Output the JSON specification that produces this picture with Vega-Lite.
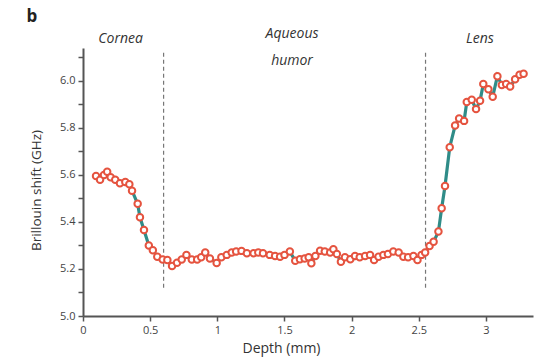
{
  "$schema": "https://vega.github.io/schema/vega-lite/v6.json",
  "width": 450,
  "height": 268,
  "autosize": {"type": "none"},
  "padding": {"left": 83, "top": 48, "right": 13, "bottom": 48},
  "background": "white",
  "config": {"view": {"stroke": null}, "font": "Open Sans"},
  "datasets": {
    "profile": [
      {"depth": 0.097, "shift": 5.596}, {"depth": 0.127, "shift": 5.58}, {"depth": 0.156, "shift": 5.6}, {"depth": 0.18, "shift": 5.614},
      {"depth": 0.206, "shift": 5.59}, {"depth": 0.24, "shift": 5.58}, {"depth": 0.275, "shift": 5.565}, {"depth": 0.315, "shift": 5.57},
      {"depth": 0.345, "shift": 5.56}, {"depth": 0.365, "shift": 5.533}, {"depth": 0.407, "shift": 5.477}, {"depth": 0.424, "shift": 5.42},
      {"depth": 0.454, "shift": 5.366}, {"depth": 0.49, "shift": 5.3}, {"depth": 0.52, "shift": 5.28}, {"depth": 0.553, "shift": 5.252},
      {"depth": 0.593, "shift": 5.24}, {"depth": 0.628, "shift": 5.238}, {"depth": 0.663, "shift": 5.213}, {"depth": 0.7, "shift": 5.227},
      {"depth": 0.735, "shift": 5.24}, {"depth": 0.77, "shift": 5.26}, {"depth": 0.81, "shift": 5.24}, {"depth": 0.85, "shift": 5.24},
      {"depth": 0.88, "shift": 5.25}, {"depth": 0.91, "shift": 5.27}, {"depth": 0.945, "shift": 5.245}, {"depth": 0.995, "shift": 5.225},
      {"depth": 1.03, "shift": 5.25}, {"depth": 1.07, "shift": 5.26}, {"depth": 1.107, "shift": 5.27}, {"depth": 1.14, "shift": 5.274},
      {"depth": 1.18, "shift": 5.277}, {"depth": 1.22, "shift": 5.267}, {"depth": 1.27, "shift": 5.267}, {"depth": 1.305, "shift": 5.27},
      {"depth": 1.34, "shift": 5.267}, {"depth": 1.39, "shift": 5.26}, {"depth": 1.43, "shift": 5.255}, {"depth": 1.467, "shift": 5.252},
      {"depth": 1.5, "shift": 5.26}, {"depth": 1.54, "shift": 5.274}, {"depth": 1.58, "shift": 5.235}, {"depth": 1.615, "shift": 5.241},
      {"depth": 1.65, "shift": 5.245}, {"depth": 1.68, "shift": 5.25}, {"depth": 1.7, "shift": 5.224}, {"depth": 1.73, "shift": 5.255},
      {"depth": 1.765, "shift": 5.278}, {"depth": 1.8, "shift": 5.274}, {"depth": 1.84, "shift": 5.27}, {"depth": 1.864, "shift": 5.284},
      {"depth": 1.89, "shift": 5.264}, {"depth": 1.92, "shift": 5.231}, {"depth": 1.95, "shift": 5.25}, {"depth": 1.99, "shift": 5.241},
      {"depth": 2.025, "shift": 5.255}, {"depth": 2.06, "shift": 5.25}, {"depth": 2.1, "shift": 5.255}, {"depth": 2.137, "shift": 5.26},
      {"depth": 2.167, "shift": 5.238}, {"depth": 2.2, "shift": 5.252}, {"depth": 2.236, "shift": 5.26}, {"depth": 2.27, "shift": 5.264},
      {"depth": 2.31, "shift": 5.274}, {"depth": 2.35, "shift": 5.27}, {"depth": 2.385, "shift": 5.252}, {"depth": 2.42, "shift": 5.25},
      {"depth": 2.46, "shift": 5.255}, {"depth": 2.49, "shift": 5.238}, {"depth": 2.52, "shift": 5.26}, {"depth": 2.547, "shift": 5.27},
      {"depth": 2.58, "shift": 5.298}, {"depth": 2.61, "shift": 5.316}, {"depth": 2.646, "shift": 5.359}, {"depth": 2.67, "shift": 5.458},
      {"depth": 2.695, "shift": 5.553}, {"depth": 2.73, "shift": 5.718}, {"depth": 2.77, "shift": 5.81}, {"depth": 2.8, "shift": 5.84},
      {"depth": 2.837, "shift": 5.83}, {"depth": 2.857, "shift": 5.91}, {"depth": 2.894, "shift": 5.92}, {"depth": 2.926, "shift": 5.88},
      {"depth": 2.956, "shift": 5.916}, {"depth": 2.98, "shift": 5.987}, {"depth": 3.018, "shift": 5.965}, {"depth": 3.05, "shift": 5.933},
      {"depth": 3.085, "shift": 6.02}, {"depth": 3.118, "shift": 5.983}, {"depth": 3.15, "shift": 5.987}, {"depth": 3.18, "shift": 5.976},
      {"depth": 3.217, "shift": 6.007}, {"depth": 3.25, "shift": 6.026}, {"depth": 3.28, "shift": 6.03}
    ],
    "dividers": [
      {"depth": 0.6, "shift": 5.12, "shift2": 6.12},
      {"depth": 2.55, "shift": 5.12, "shift2": 6.12}
    ],
    "labels": [
      {"depth": 0.28, "shift": 6.18, "text": "Cornea", "kind": "region"},
      {"depth": 1.556, "shift": 6.2, "text": "Aqueous", "kind": "region"},
      {"depth": 1.556, "shift": 6.083, "text": "humor", "kind": "region"},
      {"depth": 2.955, "shift": 6.18, "text": "Lens", "kind": "region"},
      {"depth": -0.38, "shift": 6.27, "text": "b", "kind": "panel"}
    ]
  },
  "encoding": {
    "x": {
      "field": "depth", "type": "quantitative",
      "scale": {"domain": [0, 3.35], "nice": false, "zero": false},
      "axis": {
        "title": "Depth (mm)", "values": [0, 0.5, 1, 1.5, 2, 2.5, 3], "format": ".2~f",
        "grid": false, "domainColor": "#555555", "domainWidth": 2, "tickColor": "#555555", "tickWidth": 1.5, "tickSize": 5,
        "labelFontSize": 11, "labelColor": "#444444", "labelPadding": 3, "labelFlush": false,
        "titleFontSize": 14, "titleFontWeight": "normal", "titleColor": "#333333", "titlePadding": 6, "titleX": 198
      }
    },
    "y": {
      "field": "shift", "type": "quantitative",
      "scale": {"domain": [5.0, 6.14], "nice": false, "zero": false},
      "axis": {
        "title": "Brillouin shift (GHz)",
        "values": [5.0, 5.1, 5.2, 5.3, 5.4, 5.5, 5.6, 5.7, 5.8, 5.9, 6.0, 6.1],
        "labelExpr": "round(datum.value * 10) % 2 == 0 ? format(datum.value, '.1f') : ''",
        "grid": false, "domainColor": "#555555", "domainWidth": 2, "tickColor": "#555555", "tickWidth": 1.5, "tickSize": 5,
        "labelFontSize": 11, "labelColor": "#444444", "labelPadding": 3, "labelFlush": false,
        "titleFontSize": 13.5, "titleFontWeight": "normal", "titleColor": "#333333", "titlePadding": 16, "titleY": 142
      }
    }
  },
  "layer": [
    {
      "data": {"name": "dividers"},
      "mark": {"type": "rule", "color": "#777777", "strokeWidth": 1.2, "strokeDash": [4, 3]},
      "encoding": {"y2": {"field": "shift2"}}
    },
    {
      "data": {"name": "profile"},
      "mark": {"type": "line", "color": "#2f8c88", "strokeWidth": 3.2},
      "encoding": {}
    },
    {
      "data": {"name": "profile"},
      "mark": {"type": "point", "shape": "circle", "filled": true, "fill": "white", "stroke": "#e5533f", "strokeWidth": 2, "size": 42, "opacity": 1}
    },
    {
      "data": {"name": "labels"},
      "transform": [{"filter": "datum.kind == 'region'"}],
      "mark": {"type": "text", "fontStyle": "italic", "fontSize": 14, "color": "#333333", "align": "center", "baseline": "middle"},
      "encoding": {"text": {"field": "text"}}
    },
    {
      "data": {"name": "labels"},
      "transform": [{"filter": "datum.kind == 'panel'"}],
      "mark": {"type": "text", "fontWeight": "bold", "fontSize": 17, "color": "#222222", "align": "center", "baseline": "middle"},
      "encoding": {"text": {"field": "text"}}
    }
  ]
}
